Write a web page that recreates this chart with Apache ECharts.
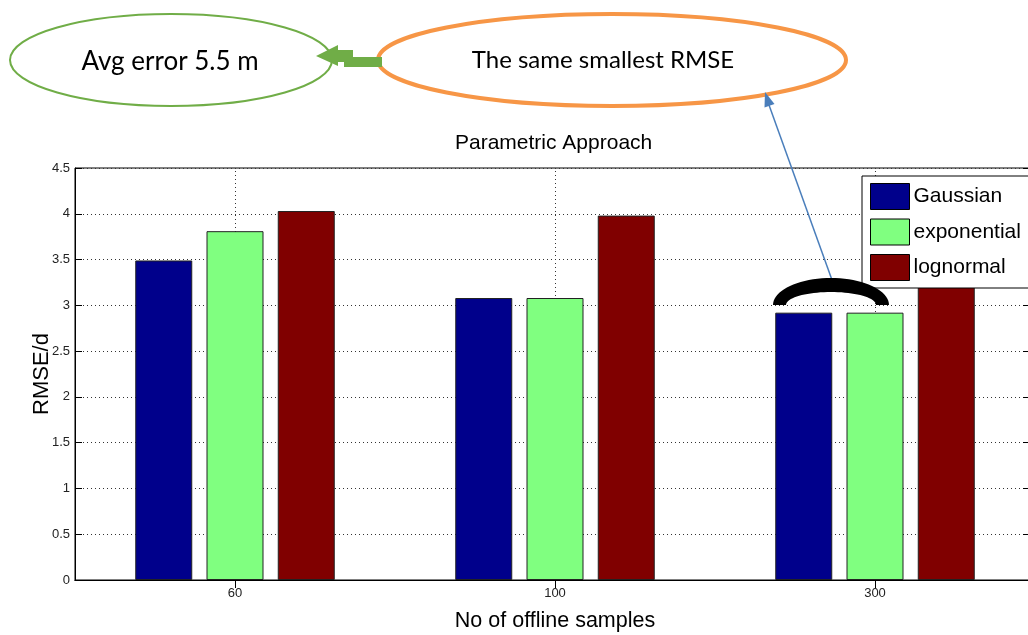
<!DOCTYPE html>
<html>
<head>
<meta charset="utf-8">
<script src="https://cdn.jsdelivr.net/npm/echarts@6/dist/echarts.min.js"></script>
<style>
html,body{margin:0;padding:0;background:#fff;}
#chart{width:1028px;height:635px;}
</style>
</head>
<body>
<div id="chart"></div>
<script>
// ---- data ----
const categories = ['60', '100', '300'];
const seriesNames = ['Gaussian', 'exponential', 'lognormal'];
const gaussian = [3.49, 3.08, 2.92];
const exponential = [3.81, 3.08, 2.92];
const lognormal = [4.03, 3.98, 3.55];
const yMin = 0, yMax = 4.5, yStep = 0.5;
const titleText = 'Parametric Approach';
const xName = 'No of offline samples';
const yName = 'RMSE/d';
const noteLeft = 'Avg error 5.5 m';
const noteRight = 'The same smallest RMSE';

const colors = ['#00008B', '#80FF80', '#800000'];
const axisFont = 'Liberation Sans';

const chart = echarts.init(document.getElementById('chart'), null, {renderer: 'canvas'});

const dotted = {color: '#333', width: 1, type: [1, 3]};

// black brace-like arc annotation (half elliptical band)
function bandPoints(cx, cy, rxo, ryo, rxi, ryi, n) {
  const pts = [];
  for (let i = 0; i <= n; i++) {
    const t = Math.PI - Math.PI * i / n;
    pts.push([cx + rxo * Math.cos(t), cy - ryo * Math.sin(t)]);
  }
  for (let i = 0; i <= n; i++) {
    const t = Math.PI * i / n;
    pts.push([cx + rxi * Math.cos(t), cy - ryi * Math.sin(t)]);
  }
  return pts;
}

const option = {
  animation: false,
  backgroundColor: '#fff',
  title: {
    text: titleText,
    left: 455,
    top: 133,
    padding: 0,
    textStyle: {fontFamily: axisFont, fontSize: 21, fontWeight: 'normal', color: '#000'}
  },
  legend: {
    data: seriesNames,
    orient: 'vertical',
    left: 862,
    top: 176,
    padding: [7, 8, 7, 8],
    itemWidth: 39,
    itemHeight: 26,
    itemGap: 8.5,
    icon: 'rect',
    backgroundColor: '#fff',
    borderColor: '#000',
    borderWidth: 1,
    itemStyle: {borderColor: '#000', borderWidth: 1},
    textStyle: {fontFamily: axisFont, fontSize: 21, color: '#000', padding: [0, 0, 0, -1]}
  },
  grid: {
    left: 75, top: 168, width: 960, bottom: 55,
    outerBoundsMode: 'none',
    show: true, borderColor: '#000', borderWidth: 1, containLabel: false
  },
  xAxis: [{
    type: 'category',
    data: categories,
    position: 'bottom',
    name: xName,
    nameLocation: 'middle',
    nameGap: 30,
    nameMoveOverlap: false,
    nameTextStyle: {fontFamily: axisFont, fontSize: 21.5, color: '#000'},
    axisLine: {show: true, lineStyle: {color: '#000', width: 1}},
    axisTick: {show: true, inside: true, alignWithLabel: true, length: 8, lineStyle: {color: '#000'}},
    axisLabel: {fontFamily: axisFont, fontSize: 13, color: '#222', margin: 7},
    splitLine: {show: false}
  }, {
    type: 'category',
    data: categories,
    position: 'top',
    axisLine: {show: true, lineStyle: {color: '#000', width: 1}},
    axisTick: {show: true, inside: true, alignWithLabel: true, length: 8, lineStyle: {color: '#000'}},
    axisLabel: {show: false},
    splitLine: {show: false}
  }],
  yAxis: [{
    type: 'value',
    min: yMin, max: yMax, interval: yStep,
    position: 'left',
    name: yName,
    nameLocation: 'middle',
    nameGap: 22,
    nameMoveOverlap: false,
    nameTextStyle: {fontFamily: axisFont, fontSize: 22, color: '#000'},
    axisLine: {show: true, lineStyle: {color: '#000', width: 1}},
    axisTick: {show: true, inside: true, length: 7, lineStyle: {color: '#000'}},
    axisLabel: {fontFamily: axisFont, fontSize: 13, color: '#222', margin: 5},
    splitLine: {show: true, lineStyle: dotted}
  }, {
    type: 'value',
    min: yMin, max: yMax, interval: yStep,
    position: 'right',
    axisLine: {show: true, lineStyle: {color: '#000', width: 1}},
    axisTick: {show: true, inside: true, length: 12, lineStyle: {color: '#000'}},
    axisLabel: {show: false},
    splitLine: {show: false}
  }],
  series: [
    {
      name: seriesNames[0], type: 'bar', data: gaussian,
      barWidth: 57, barGap: '25%',
      itemStyle: {color: colors[0], borderColor: '#222', borderWidth: 1}
    },
    {
      name: seriesNames[1], type: 'bar', data: exponential,
      barWidth: 57, barGap: '25%',
      itemStyle: {color: colors[1], borderColor: '#222', borderWidth: 1},
      markLine: {
        silent: true, z: 1, symbol: 'none',
        label: {show: false},
        lineStyle: dotted,
        data: categories.map(c => ({xAxis: c}))
      }
    },
    {
      name: seriesNames[2], type: 'bar', data: lognormal,
      barWidth: 57, barGap: '25%',
      itemStyle: {color: colors[2], borderColor: '#222', borderWidth: 1}
    }
  ],
  graphic: [
    {
      type: 'ellipse', z: 100,
      shape: {cx: 171, cy: 60, rx: 161, ry: 46},
      style: {fill: 'none', stroke: '#70AD47', lineWidth: 2}
    },
    {
      type: 'text', z: 101, x: 170, y: 62,
      style: {text: noteLeft, align: 'center', verticalAlign: 'middle', font: '26px Lato', fill: '#000'}
    },
    {
      type: 'ellipse', z: 100,
      shape: {cx: 612, cy: 60, rx: 234, ry: 46},
      style: {fill: 'none', stroke: '#F79646', lineWidth: 4}
    },
    {
      type: 'text', z: 101, x: 603, y: 60,
      style: {text: noteRight, align: 'center', verticalAlign: 'middle', font: '24px Lato', fill: '#000'}
    },
    {
      type: 'polygon', z: 102,
      shape: {points: [[316, 56], [338, 45], [338, 50], [353, 50], [353, 57], [382, 57], [382, 67], [344, 67], [344, 62], [338, 62], [338, 66]]},
      style: {fill: '#70AD47'}
    },
    {
      type: 'line', z: 102,
      shape: {x1: 832, y1: 280, x2: 769, y2: 105},
      style: {stroke: '#4A7EBB', lineWidth: 1.5}
    },
    {
      type: 'polygon', z: 102,
      shape: {points: [[765, 92], [774.5, 104], [764.5, 107.5]]},
      style: {fill: '#4A7EBB'}
    },
    {
      type: 'polygon', z: 102,
      shape: {points: bandPoints(831, 305, 58, 27, 45, 13, 40)},
      style: {fill: '#000'}
    }
  ]
};
chart.setOption(option);
</script>
</body>
</html>
